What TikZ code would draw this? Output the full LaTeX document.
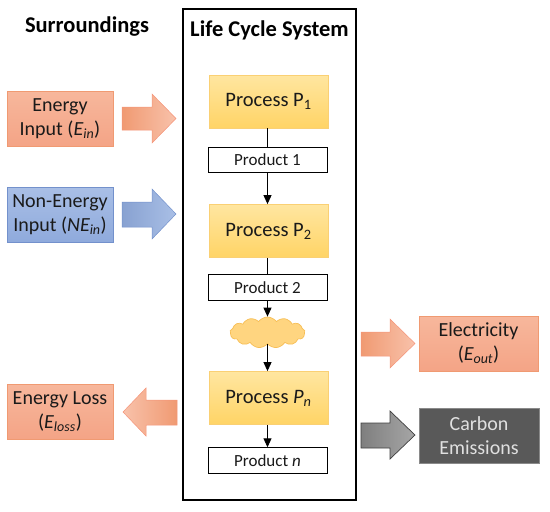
\documentclass[tikz,border=0pt]{standalone}
\usepackage{fontspec}
\setmainfont{Carlito}
\usetikzlibrary{shapes.symbols,arrows.meta}
\definecolor{salmonA}{HTML}{F4A486}
\definecolor{salmonB}{HTML}{F7B79C}
\definecolor{salmonE}{HTML}{F09A72}
\definecolor{blueA}{HTML}{8FAADC}
\definecolor{blueB}{HTML}{A9BFE6}
\definecolor{blueE}{HTML}{7391CC}
\definecolor{yelT}{HTML}{FFE6A0}
\definecolor{yelB}{HTML}{FFD466}
\definecolor{yelE}{HTML}{FAD074}
\definecolor{cloudF}{HTML}{FFD580}
\definecolor{cloudE}{HTML}{F7BE55}
\definecolor{grayBox}{HTML}{595959}
\definecolor{grayEdge}{HTML}{8A8A8A}
\definecolor{grayA}{HTML}{7F7F7F}
\definecolor{grayB}{HTML}{A6A6A6}
\definecolor{inkC}{HTML}{1A1A1A}
\begin{document}
\begin{tikzpicture}[x=1pt,y=-1pt,
  sidebox/.style={draw, line width=0.8pt, minimum width=106pt, minimum height=55pt, inner sep=0pt, align=center, font=\fontsize{20}{24}\selectfont, text=inkC},
  energybox/.style={sidebox, draw=salmonE, top color=salmonB, bottom color=salmonA},
  nonenergybox/.style={sidebox, draw=blueE, top color=blueB, bottom color=blueA},
  carbonbox/.style={sidebox, draw=grayEdge, fill=grayBox, text=white!88!black},
  procbox/.style={draw=yelE, line width=0.8pt, top color=yelT, bottom color=yelB, minimum width=119pt, minimum height=53pt, inner sep=0pt, font=\fontsize{20.5}{24}\selectfont, text=inkC},
  prodbox/.style={draw=black, line width=0.9pt, fill=white, minimum width=119pt, minimum height=25.5pt, inner sep=0pt, font=\fontsize{17}{20}\selectfont, text=inkC},
  cloudnode/.style={cloud, cloud puffs=13, cloud puff arc=110, aspect=2.4, draw=cloudE, fill=cloudF, line width=0.7pt, minimum width=75pt, minimum height=31pt, inner sep=0pt},
  titletext/.style={font=\bfseries\fontsize{22.5}{26}\selectfont, text=black},
  flow/.style={line width=0.9pt, draw=black},
  flowarrow/.style={flow, -{Triangle[length=9pt,width=8pt]}},
  salmonarrow/.style={draw=salmonA!90!red, line width=0.5pt, left color=salmonE, right color=salmonB!85!white},
  salmonarrowL/.style={draw=salmonA!90!red, line width=0.5pt, left color=salmonB!85!white, right color=salmonE},
  bluearrow/.style={draw=blueE, line width=0.5pt, left color=blueA!95!black, right color=blueB},
  grayarrow/.style={draw=black!75, line width=0.7pt, left color=grayA, right color=grayB}
]
\useasboundingbox (0,0) rectangle (550,512);

% titles
\node[titletext] (surr) at (87,27) {Surroundings};
\draw[line width=1.8pt] (183,9) rectangle (356,500);
\node[titletext] (lcs) at (269.5,30) {Life Cycle System};

% left boxes
\node[energybox] (ein) at (60,118.5) {Energy\\Input (\textit{E\textsubscript{in}})};
\node[nonenergybox] (nein) at (60,214.5) {Non-Energy\\Input (\textit{NE\textsubscript{in}})};
\node[energybox] (eloss) at (60,411.5) {Energy Loss\\(\textit{E\textsubscript{loss}})};

% right boxes
\node[energybox, minimum width=119pt] (eout) at (478.5,343.5) {Electricity\\(\textit{E\textsubscript{out}})};
\node[carbonbox, minimum width=120pt] (carbon) at (479,435.5) {Carbon\\Emissions};

% process chain
\node[procbox] (p1) at (268.5,101.5) {Process P\textsubscript{1}};
\node[prodbox] (pr1) at (267.5,160) {Product 1};
\node[procbox] (p2) at (268.5,231) {Process P\textsubscript{2}};
\node[prodbox] (pr2) at (267.5,287.5) {Product 2};
\node[cloudnode] (cl) at (267.5,332.5) {};
\node[procbox] (pn) at (268.5,398) {Process \textit{P\textsubscript{n}}};
\node[prodbox] (prn) at (267.5,460.5) {Product \textit{n}};

\draw[flow] (p1.south -| pr1.north) -- (pr1.north);
\draw[flowarrow] (pr1.south) -- (p2.north -| pr1.south);
\draw[flow] (p2.south -| pr2.north) -- (pr2.north);
\draw[flowarrow] (pr2.south) -- (cl.north -| pr2.south);
\draw[flowarrow] (cl.south) -- (pn.north -| cl.south);
\draw[flowarrow] (pn.south -| prn.north) -- (prn.north);

% block arrows
\draw[salmonarrow] (122,107) -- (152,107) -- (152,94) -- (176,118.5) -- (152,143) -- (152,130) -- (122,130) -- cycle;
\draw[bluearrow] (122,202) -- (152,202) -- (152,189) -- (176,214) -- (152,239) -- (152,227) -- (122,227) -- cycle;
\draw[salmonarrowL] (177,400) -- (146,400) -- (146,388) -- (123,412) -- (146,436) -- (146,425) -- (177,425) -- cycle;
\draw[salmonarrow] (361,332) -- (390,332) -- (390,319) -- (415,343.5) -- (390,368) -- (390,356) -- (361,356) -- cycle;
\draw[grayarrow] (361,423) -- (390,423) -- (390,411) -- (415,435) -- (390,459) -- (390,448) -- (361,448) -- cycle;
\end{tikzpicture}
\end{document}
